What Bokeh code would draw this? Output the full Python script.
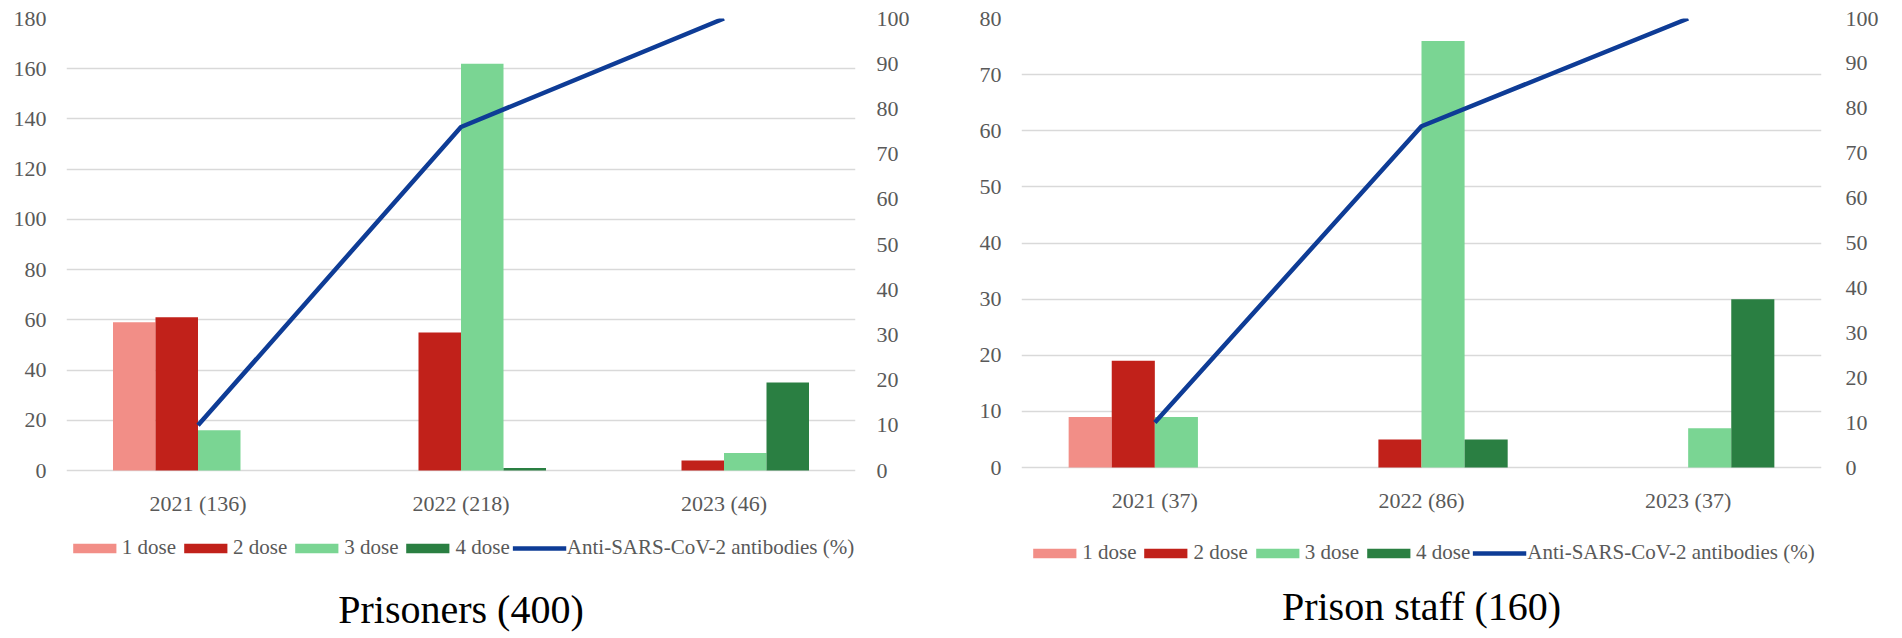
from bokeh.plotting import figure
from bokeh.models import (Range1d, LinearAxis, FactorRange, FixedTicker, Legend,
                          LegendItem, Label, ColumnDataSource)
from bokeh.core.properties import value
from bokeh.transform import dodge
from bokeh.layouts import row
from bokeh.embed import file_html
from bokeh.resources import INLINE

# ---------------- data ----------------
series_names = ["1 dose", "2 dose", "3 dose", "4 dose"]
line_name = "Anti-SARS-CoV-2 antibodies (%)"

prisoners_title = "Prisoners (400)"
prisoners_years = ["2021 (136)", "2022 (218)", "2023 (46)"]
prisoners_dose1 = [59, 0, 0]
prisoners_dose2 = [61, 55, 4]
prisoners_dose3 = [16, 162, 7]
prisoners_dose4 = [0, 1, 35]
prisoners_anti = [10, 76, 100]
prisoners_yticks = [0, 20, 40, 60, 80, 100, 120, 140, 160, 180]

staff_title = "Prison staff (160)"
staff_years = ["2021 (37)", "2022 (86)", "2023 (37)"]
staff_dose1 = [9, 0, 0]
staff_dose2 = [19, 5, 0]
staff_dose3 = [9, 76, 7]
staff_dose4 = [0, 5, 30]
staff_anti = [10, 76, 100]
staff_yticks = [0, 10, 20, 30, 40, 50, 60, 70, 80]

pct_ticks = [0, 10, 20, 30, 40, 50, 60, 70, 80, 90, 100]

# ---------------- style ----------------
COLORS = ["#F28E87", "#C1211A", "#7AD593", "#2A7F42"]
LINE_COLOR = "#0E3C96"
GRID = "#D9D9D9"
TICK_COLOR = "#595959"
FONT = "Liberation Serif"
BAR_W = 0.1616
BELOW = 166   # pixels of the frame below the zero line (labels, legend, title)


def make_panel(years, doses, anti, yticks, ymax, title, fw, plot_h, mb_left, mb_right,
               mb_top, std_left, std_right):
    src = ColumnDataSource(dict(year=years, d1=doses[0], d2=doses[1], d3=doses[2],
                                d4=doses[3], anti=anti))
    fh = plot_h + BELOW
    ymin = -ymax * BELOW / plot_h
    pmin = -100 * BELOW / plot_h
    p = figure(x_range=FactorRange(*years, range_padding=0, factor_padding=0),
               y_range=Range1d(ymin, ymax), x_axis_location=None,
               frame_width=fw, frame_height=fh,
               min_border_left=mb_left, min_border_right=mb_right,
               min_border_top=mb_top, min_border_bottom=0,
               toolbar_location=None, output_backend="svg",
               background_fill_color="white", border_fill_color="white",
               outline_line_color=None)
    p.extra_y_ranges = {"pct": Range1d(pmin, 100)}

    renderers = []
    offsets = [-1.5 * BAR_W, -0.5 * BAR_W, 0.5 * BAR_W, 1.5 * BAR_W]
    for i, key in enumerate(["d1", "d2", "d3", "d4"]):
        r = p.vbar(x=dodge("year", offsets[i], range=p.x_range), top=key, width=BAR_W,
                   bottom=0, source=src, fill_color=COLORS[i], line_color=None)
        renderers.append(r)
    lr = p.line(x="year", y="anti", source=src, y_range_name="pct",
                line_color=LINE_COLOR, line_width=4.5, line_join="round")
    renderers.append(lr)

    # category labels under the zero line
    p.text(x="year", y=0, text="year", source=src, y_offset=33,
           text_align="center", text_baseline="alphabetic",
           text_font=value(FONT), text_font_size="22px", text_color=TICK_COLOR)

    yaxis = p.yaxis[0]
    yaxis.ticker = FixedTicker(ticks=yticks)
    ax_right = LinearAxis(y_range_name="pct", ticker=FixedTicker(ticks=pct_ticks))
    p.add_layout(ax_right, "right")
    for ax in [yaxis, ax_right]:
        ax.axis_line_color = None
        ax.major_tick_line_color = None
        ax.minor_tick_line_color = None
        ax.major_tick_in = 0
        ax.major_tick_out = 0
        ax.minor_tick_out = 0
        ax.major_label_text_font = FONT
        ax.major_label_text_font_size = "22px"
        ax.major_label_text_color = TICK_COLOR
    yaxis.major_label_standoff = std_left
    ax_right.major_label_standoff = std_right

    p.xgrid.grid_line_color = None
    p.ygrid.grid_line_color = GRID
    p.ygrid.grid_line_width = 1.6

    items = [LegendItem(label=n, renderers=[r]) for n, r in zip(series_names, renderers[:4])]
    items.append(LegendItem(label=line_name, renderers=[lr]))
    leg = Legend(items=items, orientation="horizontal", location="bottom_center",
                 label_text_font=FONT, label_text_font_size="21px",
                 label_text_color=TICK_COLOR, glyph_width=54, glyph_height=12,
                 label_standoff=1, spacing=2, padding=0, margin=68,
                 border_line_color=None, background_fill_alpha=0, label_height=20)
    p.add_layout(leg, "center")

    t = Label(x=fw / 2, y=27, x_units="screen", y_units="screen", text=title,
              text_align="center", text_baseline="alphabetic", text_font=FONT,
              text_font_size="40px", text_color="black")
    p.add_layout(t)
    return p


p1 = make_panel(prisoners_years,
                [prisoners_dose1, prisoners_dose2, prisoners_dose3, prisoners_dose4],
                prisoners_anti, prisoners_yticks, 180, prisoners_title,
                789, 452, 66, 106, 15, 20, 21)
p2 = make_panel(staff_years,
                [staff_dose1, staff_dose2, staff_dose3, staff_dose4],
                staff_anti, staff_yticks, 80, staff_title,
                800, 449, 60, 70, 18, 20, 24)

layout = row(p1, p2)
open("out.html", "w").write(file_html(layout, INLINE))
